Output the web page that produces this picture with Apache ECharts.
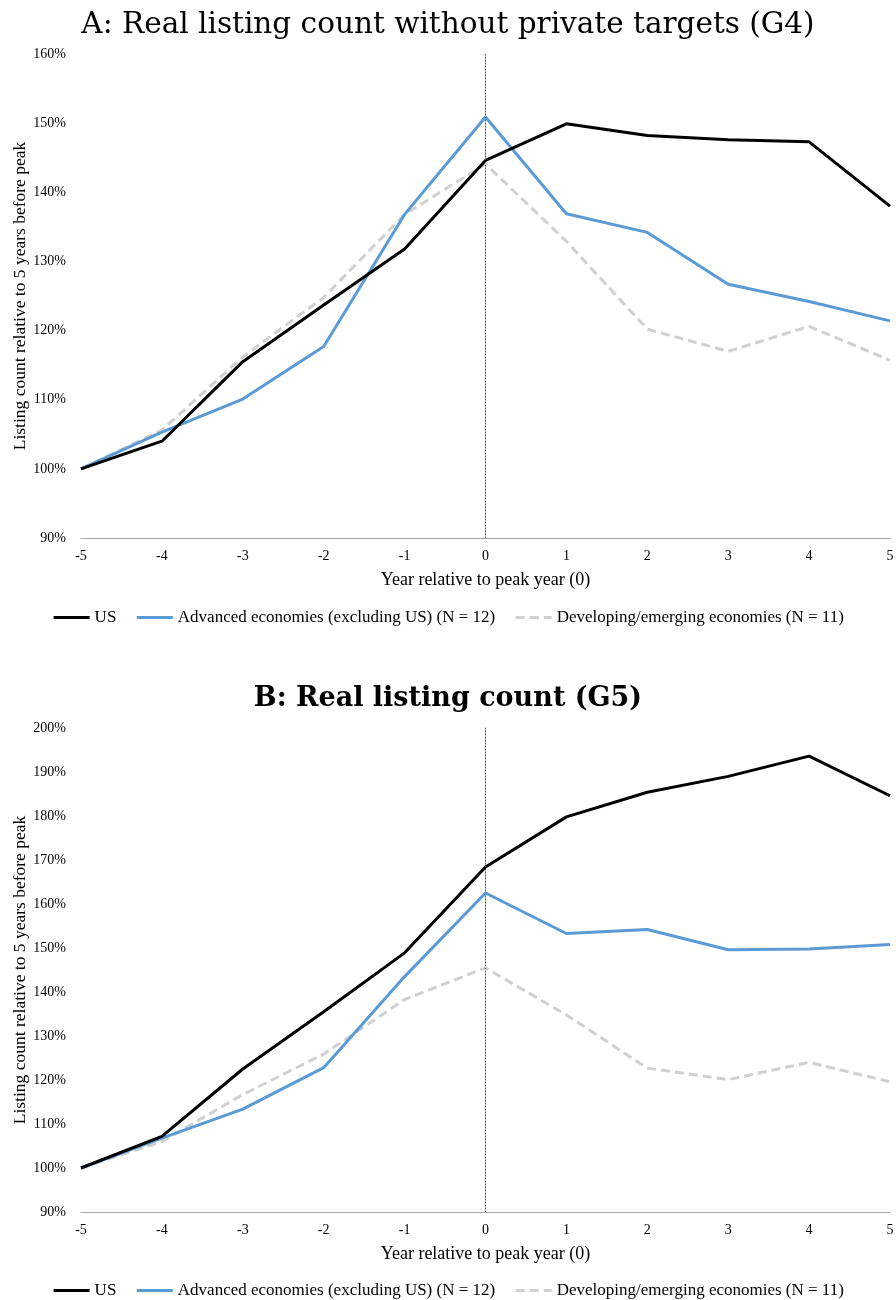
<!DOCTYPE html>
<html>
<head>
<meta charset="utf-8">
<script src="https://cdn.jsdelivr.net/npm/echarts@6/dist/echarts.min.js"></script>
<style>
  html, body { margin: 0; padding: 0; background: #fff; }
  #chart { width: 896px; height: 1300px; }
</style>
</head>
<body>
<div id="chart"></div>
<script>
const years = [-5, -4, -3, -2, -1, 0, 1, 2, 3, 4, 5];
const seriesNames = ['US', 'Advanced economies (excluding US) (N = 12)', 'Developing/emerging economies (N = 11)'];

// panel A: without private targets (G4), percent of level 5 years before peak
const usA = [100, 104.0, 115.5, 123.7, 131.8, 144.6, 149.9, 148.2, 147.6, 147.3, 138.0];
const advA = [100, 105.3, 110.1, 117.7, 136.8, 150.9, 136.9, 134.2, 126.7, 124.2, 121.4];
const devA = [100, 105.6, 116.2, 124.8, 136.8, 144.1, 132.9, 120.2, 117.0, 120.6, 115.7];

// panel B: real listing count (G5)
const usB = [100, 107.2, 122.5, 135.5, 148.9, 168.4, 179.8, 185.4, 189.0, 193.6, 184.6];
const advB = [100, 106.8, 113.4, 122.8, 143.5, 162.5, 153.3, 154.2, 149.6, 149.8, 150.8];
const devB = [100, 106.0, 116.7, 125.9, 138.3, 145.5, 134.8, 122.7, 120.1, 124.0, 119.6];

const serif = 'Liberation Serif';
const titleFont = 'DejaVu Serif';
const colors = ['#000000', '#5b9bd5', '#d0d0d0'];

const pairs = (vals) => years.map((y, i) => [y, vals[i]]);

function makeSeries(vals, idx, axis) {
  let s = {
    name: seriesNames[idx],
    type: 'line',
    xAxisIndex: axis,
    yAxisIndex: axis,
    data: pairs(vals),
    symbol: 'none',
    lineStyle: { color: colors[idx], width: 3, type: idx == 2 ? [9, 5] : 'solid' },
    itemStyle: { color: colors[idx] },
    z: 3 - idx
  };
  if (idx == 0) {
    // dotted marker at the peak year
    s.markLine = {
      silent: true,
      symbol: 'none',
      label: { show: false },
      lineStyle: { color: '#555', width: 1, type: [1, 2] },
      data: [{ xAxis: 0 }]
    };
  }
  return s;
}

function xAxisFor(grid) {
  return {
    gridIndex: grid,
    type: 'value',
    min: -5, max: 5, interval: 1,
    name: 'Year relative to peak year (0)',
    nameLocation: 'middle',
    nameGap: 33,
    nameMoveOverlap: false,
    nameTextStyle: { fontFamily: serif, fontSize: 18, color: '#000' },
    axisLine: { lineStyle: { color: '#a6a6a6', width: 1 } },
    axisTick: { show: false },
    splitLine: { show: false },
    axisLabel: { fontFamily: serif, fontSize: 14, color: '#000', margin: 11 }
  };
}

function yAxisFor(grid, min, max) {
  return {
    gridIndex: grid,
    type: 'value',
    min: min, max: max, interval: 10,
    name: 'Listing count relative to 5 years before peak',
    nameLocation: 'middle',
    nameGap: 52,
    nameMoveOverlap: false,
    nameTextStyle: { fontFamily: serif, fontSize: 17.5, color: '#000' },
    axisLine: { show: true, lineStyle: { color: '#a6a6a6', width: 1 } },
    axisTick: { show: false },
    splitLine: { show: false },
    axisLabel: { fontFamily: serif, fontSize: 14, color: '#000', margin: 15, formatter: '{value}%' }
  };
}

function legendFor(top) {
  return {
    top: top,
    left: 'center',
    itemWidth: 36,
    itemHeight: 12,
    itemGap: 19,
    itemStyle: { opacity: 0 },
    lineStyle: { width: 3 },
    textStyle: { fontFamily: serif, fontSize: 17, color: '#000' },
    data: seriesNames
  };
}

const chart = echarts.init(document.getElementById('chart'), null, { renderer: 'canvas' });

const option = {
  backgroundColor: '#fff',
  animation: false,
  title: [
    {
      text: 'A: Real listing count without private targets (G4)',
      left: 'center', top: 5,
      textStyle: { fontFamily: titleFont, fontSize: 29.5, fontWeight: 'normal', color: '#000' }
    },
    {
      text: 'B: Real listing count (G5)',
      left: 'center', top: 680,
      textStyle: { fontFamily: titleFont, fontSize: 27, fontWeight: 'bold', color: '#000' }
    }
  ],
  legend: [legendFor(604), legendFor(1277)],
  grid: [
    { left: 81, right: 6, top: 54, height: 484, outerBoundsMode: 'none' },
    { left: 81, right: 6, top: 728, height: 484, outerBoundsMode: 'none' }
  ],
  xAxis: [xAxisFor(0), xAxisFor(1)],
  yAxis: [yAxisFor(0, 90, 160), yAxisFor(1, 90, 200)],
  series: [
    makeSeries(usA, 0, 0),
    makeSeries(advA, 1, 0),
    makeSeries(devA, 2, 0),
    makeSeries(usB, 0, 1),
    makeSeries(advB, 1, 1),
    makeSeries(devB, 2, 1)
  ]
};

chart.setOption(option);
</script>
</body>
</html>
